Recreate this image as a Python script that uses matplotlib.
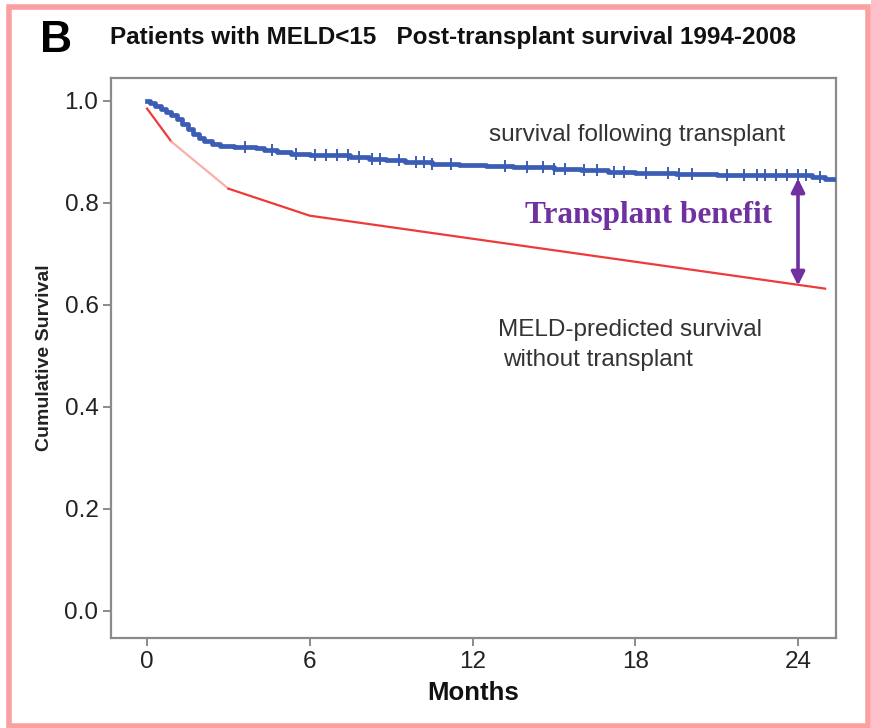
import numpy as np
import matplotlib.pyplot as plt
from matplotlib.patches import Rectangle

# Kaplan-Meier post-transplant survival (months, cumulative survival)
km_months = [0, 0.1, 0.3, 0.5, 0.7, 0.9, 1.1, 1.3, 1.5, 1.7, 1.9, 2.1, 2.4, 2.7,
             3.2, 4.0, 4.3, 4.8, 5.3, 6.0, 7.5, 8.2, 8.8, 9.5, 10.5, 11.5, 12.5,
             13.5, 15.0, 16.0, 17.0, 18.0, 19.5, 21.0, 23.0, 24.5, 25.0]
km_surv = [1.0, 0.995, 0.99, 0.985, 0.978, 0.972, 0.965, 0.955, 0.945, 0.936,
           0.928, 0.922, 0.916, 0.912, 0.910, 0.908, 0.903, 0.899, 0.896, 0.894,
           0.891, 0.887, 0.884, 0.881, 0.877, 0.874, 0.872, 0.870, 0.867, 0.864,
           0.861, 0.858, 0.856, 0.855, 0.854, 0.851, 0.847]
censor_months = [3.6, 4.6, 5.5, 6.2, 6.6, 7.0, 7.4, 7.8, 8.3, 8.6, 9.3, 9.9, 10.2,
                 10.5, 11.2, 13.2, 14.0, 14.6, 15.0, 15.4, 16.1, 16.6, 17.2, 17.6,
                 18.4, 19.2, 19.6, 20.1, 21.4, 22.0, 22.5, 22.8, 23.2, 23.6, 24.0,
                 24.3, 24.8]
km_end = 25.4

# MELD-predicted survival without transplant
meld_months = [0, 0.9, 3.0, 6.0, 25.0]
meld_surv = [0.985, 0.92, 0.828, 0.775, 0.632]

xticks = [0, 6, 12, 18, 24]
yticks = [0.0, 0.2, 0.4, 0.6, 0.8, 1.0]

plt.rcParams['font.family'] = ['Liberation Sans', 'DejaVu Sans']

fig = plt.figure(figsize=(8.71, 7.28), dpi=100)
ax = fig.add_axes([0.1274, 0.1236, 0.8324, 0.7693])

blue = '#3b5db6'
step_x = km_months + [km_end]
step_y = km_surv + [km_surv[-1]]
ax.step(step_x, step_y, where='post', color=blue, lw=3.4, zorder=3)
idx = np.searchsorted(km_months, censor_months, side='right') - 1
cens_y = np.array(km_surv)[idx]
ax.plot(censor_months, cens_y, ls='none', marker='|', ms=8, mew=1.4,
        color=blue, zorder=4)

# predicted curve, the 1-3 month piece is drawn pale
ax.plot(meld_months[:2], meld_surv[:2], color='#f03a3a', lw=1.6, zorder=2)
ax.plot(meld_months[1:3], meld_surv[1:3], color='#f7b0a8', lw=1.6, zorder=2)
ax.plot(meld_months[2:], meld_surv[2:], color='#f03a3a', lw=1.6, zorder=2)

purple = '#7030a0'
ax.annotate('', xy=(24, meld_surv[-1] + 0.006), xytext=(24, 0.848),
            arrowprops=dict(arrowstyle='<|-|>', color=purple, lw=2.6,
                            mutation_scale=20, shrinkA=0, shrinkB=0), zorder=5)
ax.text(18.5, 0.775, 'Transplant benefit', color=purple, fontsize=22.5,
        fontweight='bold', family=['Liberation Serif', 'DejaVu Serif'],
        ha='center', va='center')

ax.text(12.6, 0.933, 'survival following transplant', fontsize=17.5,
        color='#333333', va='center')
ax.text(12.95, 0.551, 'MELD-predicted survival', fontsize=17.5,
        color='#333333', va='center')
ax.text(13.13, 0.492, 'without transplant', fontsize=17.5,
        color='#333333', va='center')

ax.set_xlim(-1.33, 25.4)
ax.set_ylim(-0.053, 1.045)
ax.set_xticks(xticks)
ax.set_yticks(yticks)
ax.set_yticklabels(['%.1f' % v for v in yticks])
for s in ax.spines.values():
    s.set_color('#8a8a8a')
    s.set_linewidth(1.6)
ax.tick_params(direction='out', length=6, width=1.4, color='#8a8a8a',
               labelsize=17.5, labelcolor='#222222', pad=3)
ax.set_xlabel('Months', fontsize=18.5, fontweight='bold', color='#111111',
              labelpad=6)
ax.set_ylabel('Cumulative Survival', fontsize=14, fontweight='bold',
              color='#222222', labelpad=8)

fig.text(0.046, 0.945, 'B', fontsize=32, fontweight='bold', va='center')
fig.text(0.126, 0.948, 'Patients with MELD<15   Post-transplant survival 1994-2008',
         fontsize=17.5, fontweight='bold', va='center', color='#111111')

fig.add_artist(Rectangle((0.0109, 0.003), 0.9857, 0.987, fill=False,
                         edgecolor='#fba0a0', lw=4, transform=fig.transFigure))

fig.savefig('out.png', dpi=100)
